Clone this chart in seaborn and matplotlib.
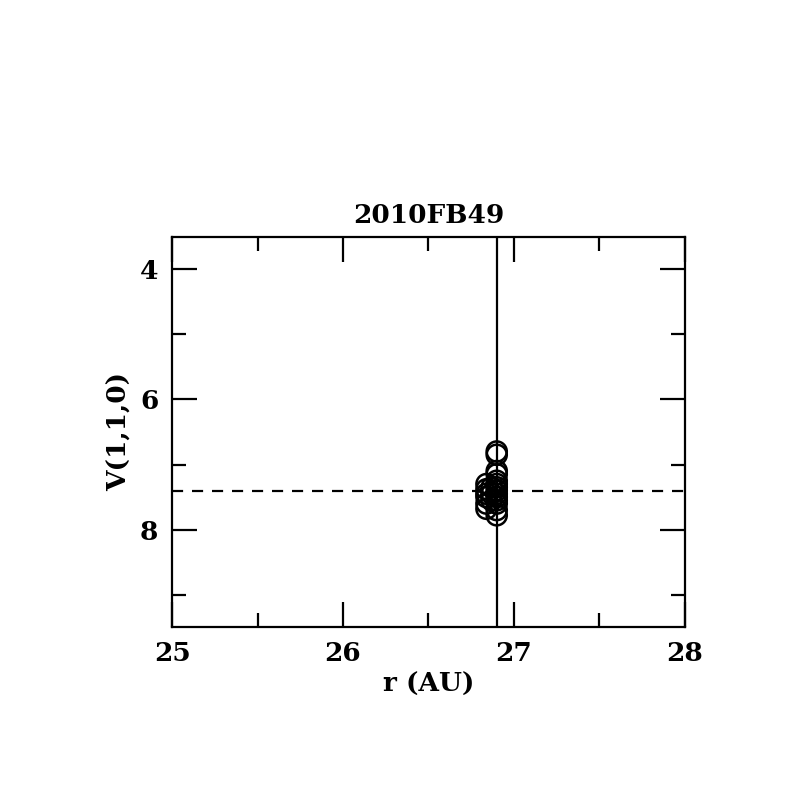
import numpy as np
import pandas as pd
import seaborn as sns
import matplotlib
matplotlib.use('Agg')
import matplotlib.pyplot as plt
from matplotlib.ticker import MultipleLocator

# observations of 2010FB49
r_au = [26.90, 26.90, 26.90, 26.90, 26.90, 26.90, 26.90, 26.90, 26.90, 26.90,
        26.90, 26.90, 26.90, 26.90, 26.84, 26.84, 26.84, 26.84, 26.84, 26.84,
        26.87, 26.87, 26.87]
v110 = [6.80, 6.85, 7.10, 7.15, 7.25, 7.30, 7.35, 7.40, 7.45, 7.50,
        7.55, 7.60, 7.70, 7.78, 7.30, 7.38, 7.45, 7.50, 7.60, 7.68,
        7.35, 7.45, 7.55]
r_now = 26.90
v_mean = 7.40

df = pd.DataFrame({'r': r_au, 'V': v110})

sns.set_style('ticks')
plt.rcParams['font.family'] = ['DejaVu Serif']
plt.rcParams['text.color'] = 'black'
plt.rcParams['axes.labelcolor'] = 'black'
plt.rcParams['xtick.color'] = 'black'
plt.rcParams['ytick.color'] = 'black'

fig = plt.figure(figsize=(7.97, 7.97), dpi=100)
ax = fig.add_axes([0.216, 0.213, 0.643, 0.490])

sns.scatterplot(data=df, x='r', y='V', ax=ax, marker='o', s=210,
                facecolors='none', edgecolor='black', linewidth=1.8)
ax.axvline(r_now, color='black', linewidth=1.6)
ax.axhline(v_mean, color='black', linewidth=1.6, linestyle=(0, (5, 4)))

ax.set_xlim(25, 28)
ax.set_ylim(9.5, 3.5)
ax.xaxis.set_major_locator(MultipleLocator(1))
ax.xaxis.set_minor_locator(MultipleLocator(0.5))
ax.yaxis.set_major_locator(MultipleLocator(2))
ax.yaxis.set_minor_locator(MultipleLocator(1))
ax.tick_params(which='both', direction='in', top=True, right=True,
               width=1.6, labelsize=19, pad=10)
ax.tick_params(which='major', length=18)
ax.tick_params(which='minor', length=10)
for s in ax.spines.values():
    s.set_linewidth(1.6)
    s.set_color('black')

ax.set_xlabel('r (AU)', fontsize=19, fontweight='semibold', labelpad=4)
ax.set_ylabel('V(1,1,0)', fontsize=19, fontweight='semibold', labelpad=6)
ax.set_title('2010FB49', fontsize=19, fontweight='semibold', pad=10)
for lab in ax.get_xticklabels() + ax.get_yticklabels():
    lab.set_fontweight('semibold')

plt.savefig('out.png', dpi=100)
